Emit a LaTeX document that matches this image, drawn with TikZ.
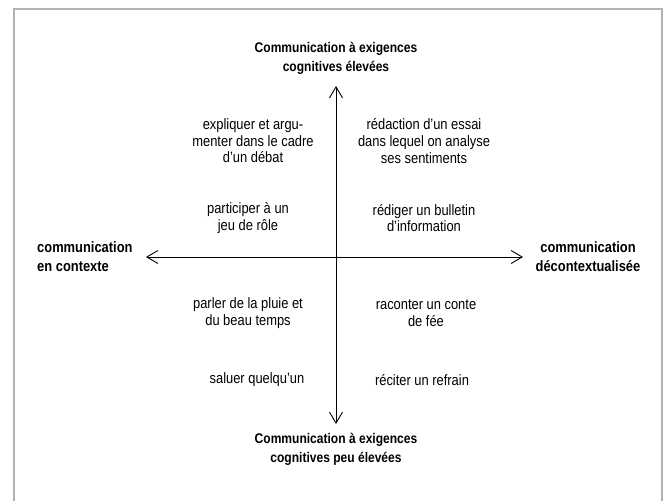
\documentclass[tikz,border=0pt]{standalone}
\usepackage{fontspec}
\setmainfont{Liberation Sans}[FakeStretch=0.86]
\usepackage{xcolor}
\usetikzlibrary{arrows.meta, positioning, calc}

\begin{document}
\begin{tikzpicture}[x=1pt,y=-1pt,
    axis/.style={line width=0.9pt,{Straight Barb[length=11pt,width=13pt,line width=0.9pt]}-{Straight Barb[length=11pt,width=13pt,line width=0.9pt]}},
    pole/.style={font=\bfseries\fontsize{14}{19}\selectfont,align=center,inner sep=0pt},
    side/.style={pole,font=\bfseries\fontsize{15}{19}\selectfont},
    example/.style={font=\fontsize{15}{16.6}\selectfont,align=center,inner sep=0pt}]
    \useasboundingbox (0,0) rectangle (665,501);
    \draw[color=black!30,line width=1.4pt] (14,510) -- (14,9) -- (662,9) -- (662,510);

    \coordinate (haut) at (336,86);
    \coordinate (bas) at (336,424);
    \coordinate (gauche) at (146,257);
    \coordinate (droite) at (523,257);
    \draw[axis] (bas) -- (haut);
    \draw[axis] (gauche) -- (droite);

    \node[pole] (exigeantes) at (336,58) {Communication à exigences\\cognitives élevées};
    \node[pole] (faciles) at (336,449) {Communication à exigences\\cognitives peu élevées};
    \node[side,align=left,anchor=west] (contexte) at (37,257) {communication\\en contexte};
    \node[side] (decontexte) at (588,257) {communication\\décontextualisée};

    \node[example] (debat) at (253,141) {expliquer et argu-\\menter dans le cadre\\d’un débat};
    \node[example] (essai) at (424,141) {rédaction d’un essai\\dans lequel on analyse\\ses sentiments};
    \node[example] (role) at (248,218) {participer à un\\jeu de rôle};
    \node[example] (bulletin) at (424,218) {rédiger un bulletin\\d’information};
    \node[example] (pluie) at (248,313) {parler de la pluie et\\du beau temps};
    \node[example] (conte) at (426,313) {raconter un conte\\de fée};
    \node[example] (saluer) at (257,380) {saluer quelqu’un};
    \node[example] (refrain) at (422,380) {réciter un refrain};
\end{tikzpicture}
\end{document}
